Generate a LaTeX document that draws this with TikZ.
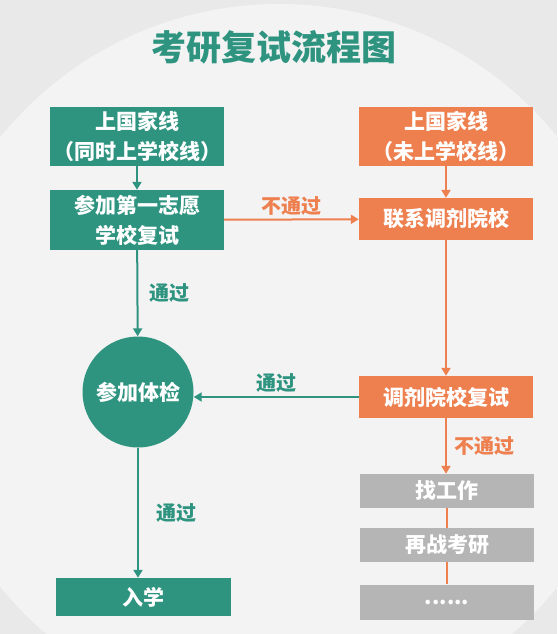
\documentclass[tikz,border=0pt]{standalone}
\usepackage{fontspec}
\setmainfont{Noto Sans CJK SC}
\usetikzlibrary{arrows.meta,positioning}
\definecolor{teal}{HTML}{2E9480}
\definecolor{orng}{HTML}{EE7F4F}
\definecolor{grey}{HTML}{B5B5B5}
\definecolor{bgdark}{HTML}{E9E9E9}
\definecolor{bglight}{HTML}{F3F3F3}

\tikzset{
  box/.style={rectangle, minimum width=174pt, text=white, font=\fontsize{21}{30}\selectfont\bfseries, align=center, inner sep=0pt},
  gbox/.style={box, fill=teal},
  obox/.style={box, fill=orng},
  ybox/.style={box, fill=grey},
  lab/.style={font=\fontsize{20}{24}\selectfont\bfseries},
  tline/.style={teal, line width=2pt},
  oline/.style={orng, line width=2pt},
  tip/.style={-{Triangle[width=9pt,length=8pt]}}
}

\begin{document}
\begin{tikzpicture}[x=1pt,y=-1pt]
\fill[bgdark] (0,0) rectangle (557,634);
\useasboundingbox (0,0) rectangle (557,634);
\fill[bglight] (279,362) circle (358);

\node[text=teal, font=\fontsize{35}{40}\selectfont\bfseries] (title) at (274,47) {考研复试流程图};

% left column
\node[gbox, minimum height=59pt] (gj1) at (137,136) {上国家线\\（同时上学校线）};
\node[gbox, minimum height=60pt] (fs1) at (137,220) {参加第一志愿\\学校复试};
\node[circle, fill=teal, minimum size=111pt, text=white, font=\fontsize{21}{24}\selectfont\bfseries, inner sep=0pt] (tj) at (138,392) {参加体检};
\node[gbox, minimum width=175pt, minimum height=38pt] (rx) at (143,597) {入学};

% right column
\node[obox, minimum height=59pt] (gj2) at (446,136) {上国家线\\（未上学校线）};
\node[obox, minimum height=42pt] (lx) at (446,219) {联系调剂院校};
\node[obox, minimum height=42pt] (fs2) at (446,397) {调剂院校复试};
\node[ybox, minimum height=34pt] (zgz) at (447,491) {找工作};
\node[ybox, minimum height=34pt] (zz) at (447,545) {再战考研};
\node[ybox, minimum height=35pt] (dd) at (447,602) {......};

% connectors
\draw[tline, tip] (gj1) -- (fs1);
\draw[oline, tip] (fs1) -- node[lab, text=orng, above=0pt] {不通过} (lx);
\draw[tline, tip] (fs1) -- node[lab, text=teal, right=8pt] {通过} (tj);
\draw[oline, tip] (gj2) -- (lx);
\draw[oline, tip] (lx) -- (fs2);
\draw[tline, tip] (fs2) -- node[lab, text=teal, above=0pt] {通过} (fs2 -| tj.east);
\draw[tline, tip] (tj.south) -- node[lab, text=teal, right=14pt] {通过} (tj.south |- rx.north);
\draw[oline, tip] (fs2.south) -- node[lab, text=orng, right=4pt] {不通过} (fs2.south |- zgz.north);
\draw[oline] (zgz) -- (zz);
\draw[oline] (zz) -- (dd);
\end{tikzpicture}
\end{document}
